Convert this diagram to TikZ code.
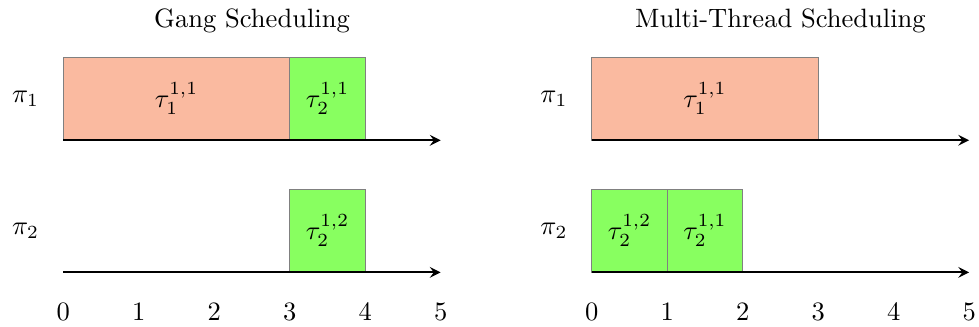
\documentclass[tikz,border=0pt]{standalone}
\usepackage{amsmath}
\usepackage{amssymb}
\usetikzlibrary{positioning}
\definecolor{salmonbox}{RGB}{250,186,160}
\definecolor{greenbox}{RGB}{136,255,96}

\begin{document}
\begin{tikzpicture}[>=stealth, every node/.style={font=\normalsize}]
\tikzstyle{task}=[rectangle, draw=gray, thin, anchor=south west, minimum height=1.1cm, inner sep=0pt, outer sep=0pt]
\tikzstyle{axis}=[->, thick]
\useasboundingbox (-0.838,-2.473) rectangle (12.13,1.858);

% Gang Scheduling
\node (gtitle) at (2.5,1.585) {Gang Scheduling};
\node (gpi1) at (-0.5,0.55) {$\pi_1$};
\node (gpi2) at (-0.5,-1.2) {$\pi_2$};
\node[task, fill=salmonbox, minimum width=3cm] (gtau11) at (0,0) {$\tau_1^{1,1}$};
\node[task, fill=greenbox, minimum width=1cm] (gtau21) at (3,0) {$\tau_2^{1,1}$};
\node[task, fill=greenbox, minimum width=1cm] (gtau22) at (3,-1.75) {$\tau_2^{1,2}$};
\coordinate (ga1) at (0,0);
\coordinate (gb1) at (5,0);
\coordinate (ga2) at (0,-1.75);
\coordinate (gb2) at (5,-1.75);
\draw[axis] (ga1) -- (gb1);
\draw[axis] (ga2) -- (gb2);
\foreach \x in {0,...,5}
  \node (gtick\x) at (\x,-2.27) {$\x$};

% Multi-Thread Scheduling
\node (mtitle) at (9.5,1.585) {Multi-Thread Scheduling};
\node (mpi1) at (6.5,0.55) {$\pi_1$};
\node (mpi2) at (6.5,-1.2) {$\pi_2$};
\node[task, fill=salmonbox, minimum width=3cm] (mtau11) at (7,0) {$\tau_1^{1,1}$};
\node[task, fill=greenbox, minimum width=1cm] (mtau22) at (7,-1.75) {$\tau_2^{1,2}$};
\node[task, fill=greenbox, minimum width=1cm] (mtau21) at (8,-1.75) {$\tau_2^{1,1}$};
\coordinate (ma1) at (7,0);
\coordinate (mb1) at (12,0);
\coordinate (ma2) at (7,-1.75);
\coordinate (mb2) at (12,-1.75);
\draw[axis] (ma1) -- (mb1);
\draw[axis] (ma2) -- (mb2);
\foreach \x in {0,...,5}
  \node (mtick\x) at (7+\x,-2.27) {$\x$};
\end{tikzpicture}
\end{document}
